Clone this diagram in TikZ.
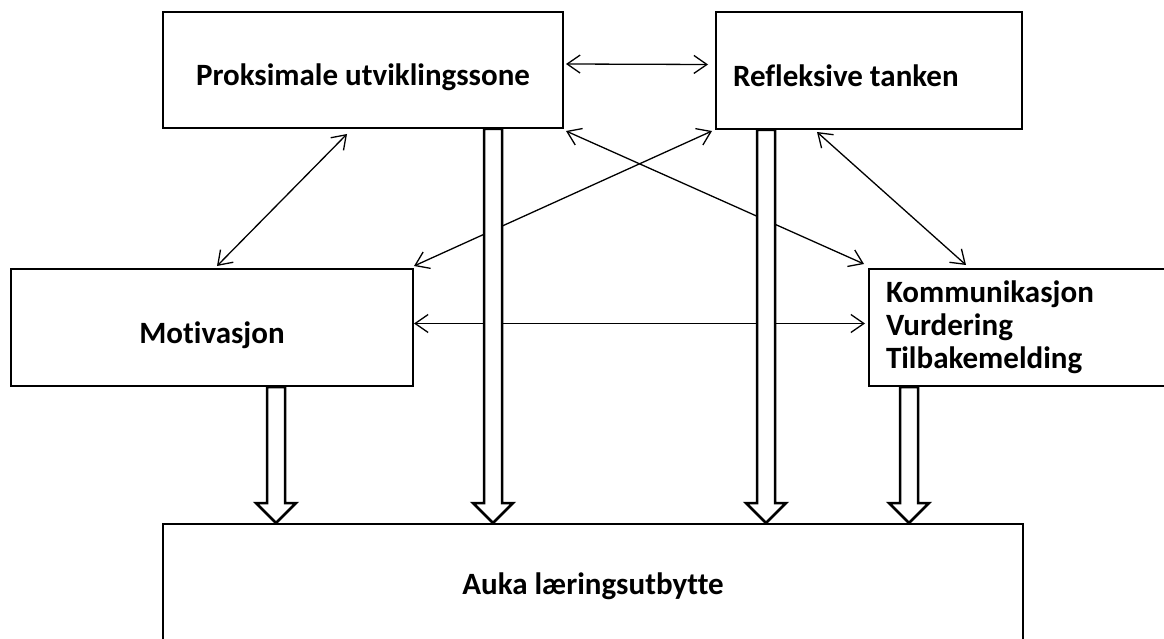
\documentclass[tikz,border=0pt]{standalone}
\usepackage{fontspec}
\setmainfont{Carlito}[Ligatures={NoCommon}]
\usetikzlibrary{arrows.meta,calc}

\tikzset{
  box/.style={draw,line width=2pt,inner sep=0pt,font=\fontsize{31}{33}\bfseries\selectfont},
  onebox/.style={box,text height=32pt,text depth=0pt},
  leftbox/.style={box,align=flush left,inner xsep=17pt},
  link/.style={{Straight Barb[length=13pt,width=18pt]}-{Straight Barb[length=13pt,width=18pt]},line width=1.3pt},
  fat/.style={draw,fill=white,line width=2.5pt,line join=miter}
}
\newcommand{\fatarrow}[2]{\draw[fat] ($(#1)+(-9,0)$) -- ($(#2 -| #1)+(-9,-20)$) -- ($(#2 -| #1)+(-20,-20)$) -- (#2 -| #1) -- ($(#2 -| #1)+(20,-20)$) -- ($(#2 -| #1)+(9,-20)$) -- ($(#1)+(9,0)$) -- cycle;}

\begin{document}
\begin{tikzpicture}[x=1pt,y=-1pt]
\path[use as bounding box] (0,0) rectangle (1164,639);
\node[onebox,minimum width=400,minimum height=116] (prox) at (363,70) {Proksimale utviklingssone};
\node[onebox,leftbox,text width=272,minimum height=117] (refl) at (869,70.5) {Refleksive tanken};
\node[onebox,minimum width=402,minimum height=117] (motiv) at (212,327.5) {Motivasjon};
\node[leftbox,text width=277,minimum height=117] (komm) at (1024.5,327.5) {Kommunikasjon\\Vurdering\\Tilbakemelding};
\node[box,text depth=0pt,minimum width=860,minimum height=120] (auka) at (593,584) {Auka læringsutbytte};
\draw[link] ($(prox.east)+(2,-6)$) -- ($(refl.west)+(-7,-6)$);
\draw[link] ($(prox.south west)+(185,5)$) -- ($(motiv.north west)+(207,-2)$);
\draw[link] ($(refl.south west)+(102,2)$) -- ($(komm.north west)+(98,-3)$);
\draw[link] ($(refl.south west)+(-3,1)$) -- ($(motiv.north east)+(0,-2)$);
\draw[link] ($(prox.south east)+(2,2)$) -- ($(komm.north west)+(-4,-4)$);
\draw[link] ($(motiv.east)+(0,-4)$) -- ($(komm.west)+(-3,-4)$);
\coordinate (fm) at ($(motiv.south west)+(266,0)$);
\coordinate (fp) at ($(prox.south east)+(-71,0)$);
\coordinate (fr) at ($(refl.south west)+(51,0)$);
\coordinate (fk) at ($(komm.south west)+(41,0)$);
\fatarrow{fm}{auka.north}
\fatarrow{fp}{auka.north}
\fatarrow{fr}{auka.north}
\fatarrow{fk}{auka.north}
\end{tikzpicture}
\end{document}
